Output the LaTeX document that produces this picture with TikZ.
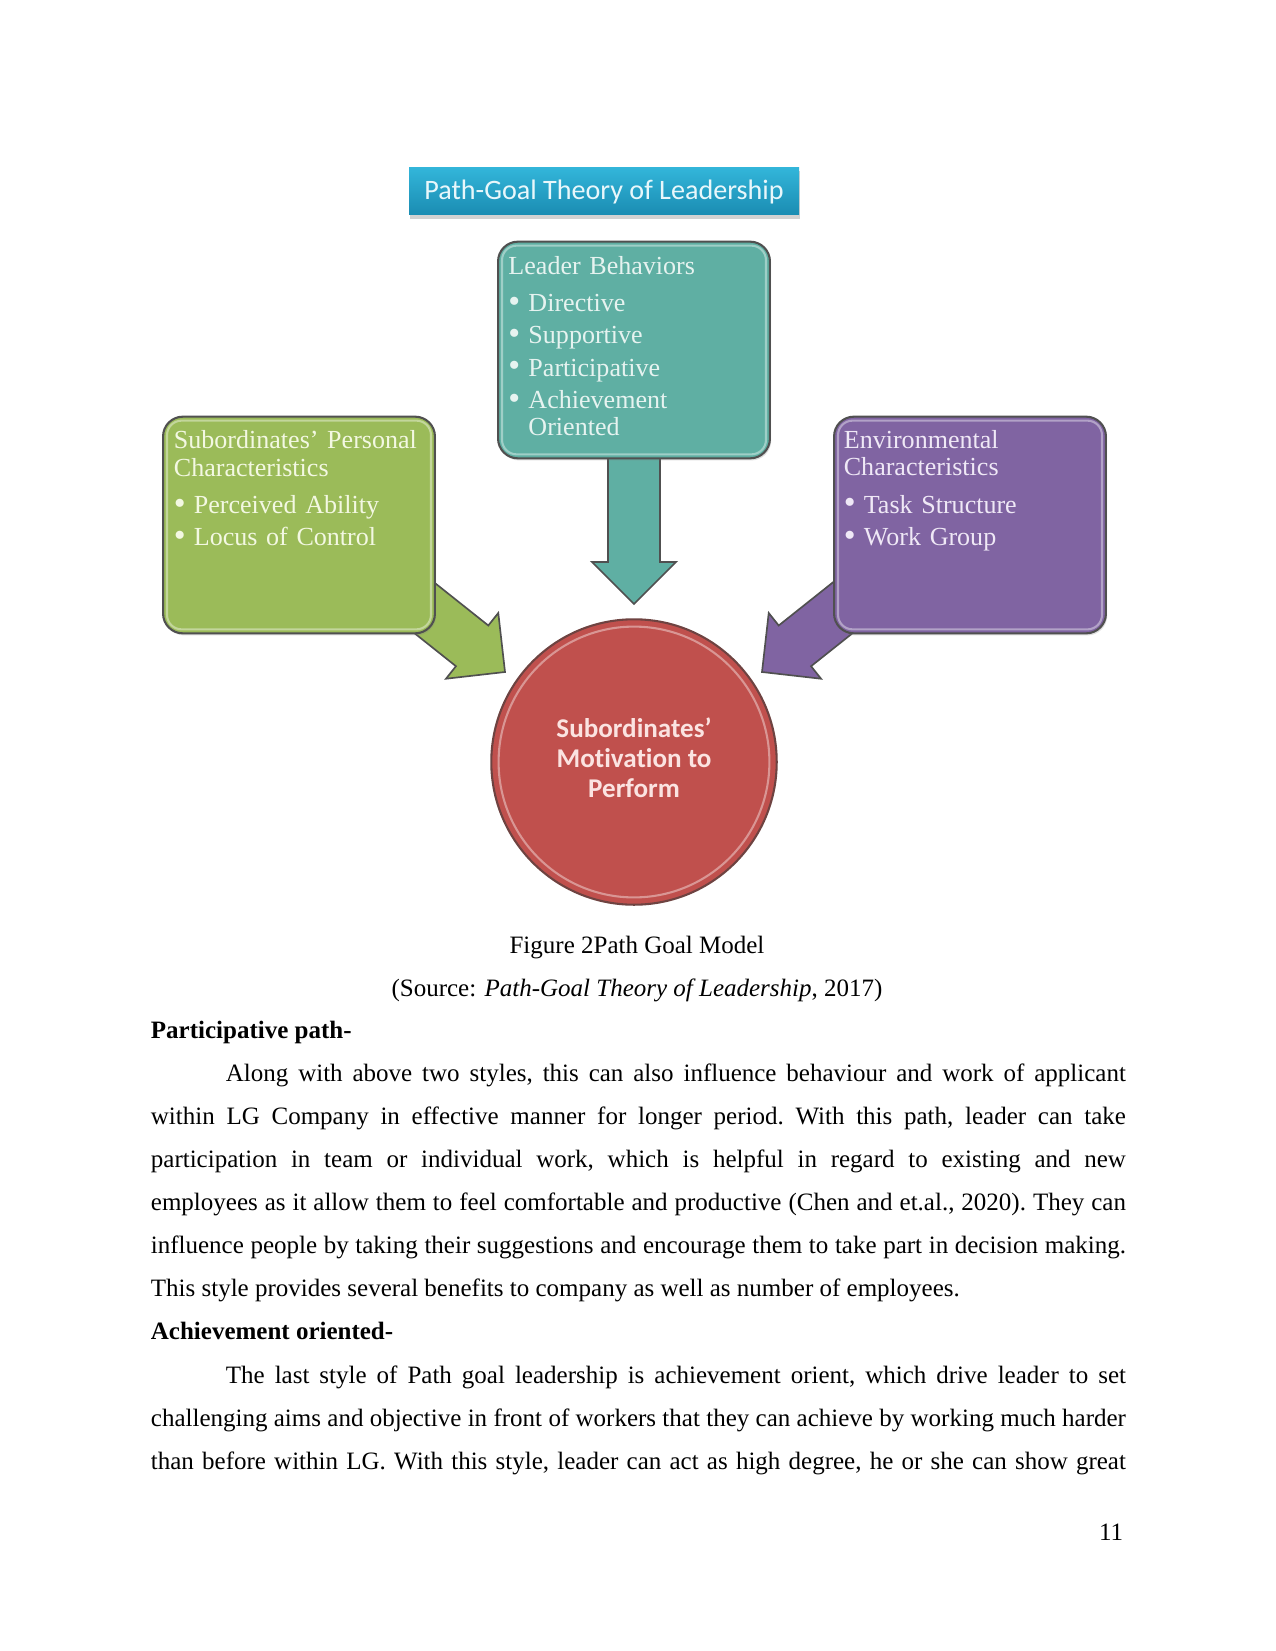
\documentclass[tikz,border=0pt]{standalone}
\usepackage{fontspec}
\setmainfont{Liberation Serif}
\newfontfamily\calibri[Ligatures=NoCommon]{Carlito}
\usepackage{tikz}
\usetikzlibrary{positioning, calc, shadows}

\definecolor{boxgreen}{HTML}{9BBB59}
\definecolor{boxteal}{HTML}{5FAFA3}
\definecolor{boxpurple}{HTML}{8064A2}
\definecolor{circred}{HTML}{C0504D}
\definecolor{bannertop}{HTML}{33B6DA}
\definecolor{bannerbot}{HTML}{1A8CB2}
\definecolor{edgegray}{HTML}{505050}
\definecolor{circedge}{HTML}{6E4341}
\definecolor{greentext}{HTML}{F3F8E2}
\definecolor{tealtext}{HTML}{E6F3F0}
\definecolor{purpletext}{HTML}{EFE8F6}
\definecolor{goaltext}{HTML}{FBE3E1}
\definecolor{bannertext}{HTML}{E8F7FB}

\newcommand{\bul}{\makebox[9.6pt][l]{\raisebox{-0.4pt}{\scalebox{1.3}{\textbullet}}}}
\newcommand{\fullline}[1]{\makebox[468pt][s]{#1}}
\newcommand{\wordspace}{\spaceskip=3pt plus 3pt minus 1.6pt\relax}
\newcommand{\parafont}{\fontsize{12pt}{20.7pt}\selectfont\frenchspacing}
% fat arrow: tip, angle, back length, colour
\newcommand{\blockarrow}[4]{%
  \begin{scope}[shift={(#1)}, rotate=#2]
    \draw[arrowedge, fill=#4] (0,0) -- (-42,42) -- (-42,26) -- (-#3,26)
      -- (-#3,-26) -- (-42,-26) -- (-42,-42) -- cycle;
  \end{scope}}

\begin{document}
\begin{tikzpicture}[
    x=0.48pt, y=-0.48pt,
    box/.style={draw=edgegray, line width=1pt, rounded corners=9.5pt,
                minimum width=130.5pt, minimum height=104pt, inner sep=0pt,
                drop shadow={opacity=0.25, shadow xshift=0.6pt, shadow yshift=-1pt}},
    boxtext/.style={inner sep=0pt, anchor=base west, text width=125pt, align=left, text=#1,
                    font=\fontsize{12.5pt}{13.2pt}\selectfont},
    banner/.style={rectangle, top color=bannertop, bottom color=bannerbot,
                   minimum width=187.2pt, minimum height=23pt, inner sep=0pt,
                   text=bannertext, font=\calibri\fontsize{13.5pt}{15pt}\selectfont,
                   text height=8pt, text depth=0pt,
                   drop shadow={opacity=0.35, shadow xshift=0.5pt, shadow yshift=-1.8pt}},
    goal/.style={circle, draw=circedge, line width=1pt, fill=circred,
                 minimum size=137pt, inner sep=0pt},
    goaltext/.style={inner sep=0pt, align=center, text=goaltext,
                     font=\calibri\bfseries\fontsize{13pt}{14.4pt}\selectfont},
    arrowedge/.style={draw=edgegray, line width=0.8pt},
    gloss/.style={draw=white, opacity=0.4, line width=1pt, rounded corners=7pt},
    caption/.style={anchor=base, inner sep=0pt, font=\fontsize{12pt}{14pt}\selectfont},
    heading/.style={anchor=base west, inner sep=0pt, font=\fontsize{12pt}{14pt}\selectfont\bfseries},
    para/.style={anchor=base west, inner sep=0pt, text width=468pt, align=left, font=\parafont},
    pagenum/.style={anchor=base east, inner sep=0pt, font=\fontsize{12pt}{14pt}\selectfont},
]
\useasboundingbox (0,0) rectangle (1275,1651);
\fill[white] (0,0) rectangle (1275,1651);

% Title banner
\node[banner] (title) at (604,191) {Path-Goal Theory of Leadership};

% Centre circle
\node[goal] (goal) at (634,762) {};
\draw[gloss] (goal.center) circle[radius=65pt];
\node[goaltext, yshift=2pt] (goallabel) at (goal.center) {Subordinates’\\Motivation to\\Perform};

% Arrow tips
\coordinate (ttip) at ($(goal.center)+(0,-158)$);
\coordinate (gtip) at ($(goal.center)+(-129,-90)$);
\coordinate (ptip) at ($(goal.center)+(128,-90)$);

% Arrows (under the boxes)
\blockarrow{ttip}{-90}{150}{boxteal}
\blockarrow{gtip}{-38.5}{130}{boxgreen}
\blockarrow{ptip}{-141.5}{130}{boxpurple}

% Boxes
\node[box, fill=boxteal] (lead) at (634,350) {};
\node[box, fill=boxgreen] (subs) at (299,525) {};
\node[box, fill=boxpurple] (envi) at (970,525) {};
\draw[gloss] ([shift={(5,5)}]lead.north west) rectangle ([shift={(-5,-5)}]lead.south east);
\draw[gloss] ([shift={(5,5)}]subs.north west) rectangle ([shift={(-5,-5)}]subs.south east);
\draw[gloss] ([shift={(5,5)}]envi.north west) rectangle ([shift={(-5,-5)}]envi.south east);

% Box texts
\node[boxtext=tealtext] (leadtext) at ([xshift=5.3pt,yshift=-16.2pt]lead.north west)
  {Leader Behaviors\\[4.6pt]\bul Directive\\[2.3pt]\bul Supportive\\[2.3pt]\bul Participative\\[2.3pt]\bul Achievement\\\hspace*{9.6pt}Oriented};
\node[boxtext=greentext] (substext) at ([xshift=5.5pt,yshift=-15.8pt]subs.north west)
  {Subordinates’ Personal\\Characteristics\\[4.8pt]\bul Perceived Ability\\[2.3pt]\bul Locus of Control};
\node[boxtext=purpletext] (envitext) at ([xshift=5pt,yshift=-15.6pt]envi.north west)
  {Environmental\\Characteristics\\[4.8pt]\bul Task Structure\\[2.3pt]\bul Work Group};

% Caption and body text
\node[caption] (fig) at (637,953) {Figure 2Path Goal Model};
\node[caption] (src) at (637,996) {(Source: \textit{Path-Goal Theory of Leadership}, 2017)};
\node[heading] (head1) at (150.5,1038) {Participative path-};
\node[para] (para1) at (150.5,1081) {\wordspace
\fullline{\hspace*{36pt}Along with above two styles, this can also influence behaviour and work of applicant}\\
\fullline{within LG Company in effective manner for longer period. With this path, leader can take}\\
\fullline{participation in team or individual work, which is helpful in regard to existing and new}\\
\fullline{employees as it allow them to feel comfortable and productive (Chen and et.al., 2020). They can}\\
\fullline{influence people by taking their suggestions and encourage them to take part in decision making.}\\
This style provides several benefits to company as well as number of employees.};
\node[heading] (head2) at (150.5,1339) {Achievement oriented-};
\node[para] (para2) at (150.5,1383) {\wordspace
\fullline{\hspace*{36pt}The last style of Path goal leadership is achievement orient, which drive leader to set}\\
\fullline{challenging aims and objective in front of workers that they can achieve by working much harder}\\
\fullline{than before within LG. With this style, leader can act as high degree, he or she can show great}};
\node[pagenum] (page) at (1123.5,1540) {11};

\end{tikzpicture}
\end{document}
